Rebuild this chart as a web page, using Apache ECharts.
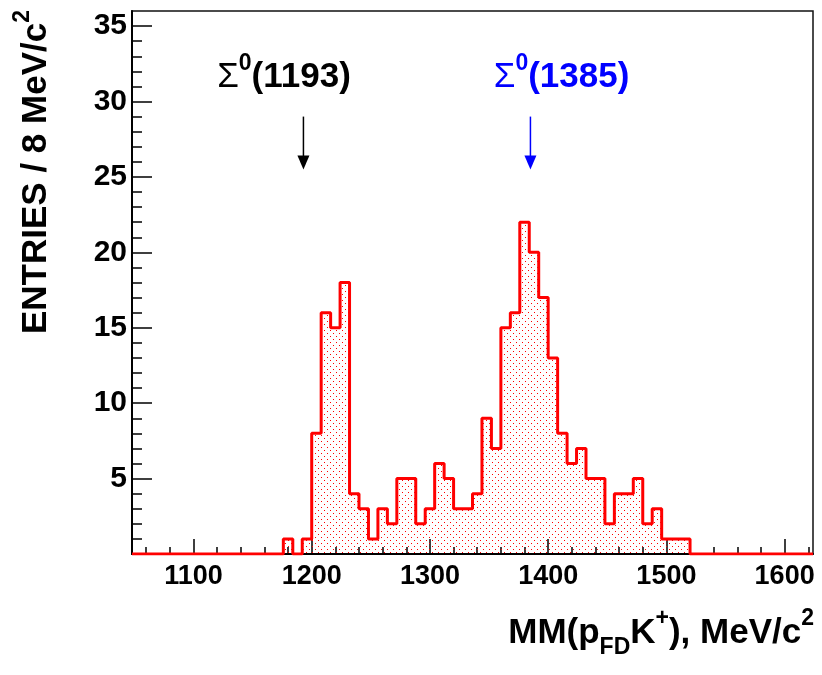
<!DOCTYPE html>
<html>
<head>
<meta charset="utf-8">
<script src="https://cdn.jsdelivr.net/npm/echarts@6/dist/echarts.min.js"></script>
<style>
  html, body { margin: 0; padding: 0; background: #ffffff; }
  #chart { width: 822px; height: 675px; }
</style>
</head>
<body>
<div id="chart"></div>
<script>
// Missing-mass histogram, 8 MeV/c^2 bins
const binStart = 1048;
const binWidth = 8;
const entries = [
  0, 0, 0, 0, 0, 0, 0, 0, 0, 0, 0, 0, 0, 0, 0, 0,   // 1048 - 1176
  1, 0, 1, 8, 16, 15, 18, 4, 3, 1, 3, 2, 5, 5,      // 1176 - 1288
  2, 3, 6, 5, 3, 3, 4, 9, 7, 15, 16, 22, 20, 17,    // 1288 - 1400
  13, 8, 6, 7, 5, 5, 2, 4, 4, 5, 2, 3, 1, 1, 1,     // 1400 - 1520
  0, 0, 0, 0, 0, 0, 0, 0, 0, 0, 0, 0, 0             // 1520 - 1624
];

// Axis ticks
const xMajorTicks = [1100, 1200, 1300, 1400, 1500, 1600];
const xMinorTicks = [1060, 1080, 1120, 1140, 1160, 1180, 1220, 1240, 1260, 1280,
                     1320, 1340, 1360, 1380, 1420, 1440, 1460, 1480, 1520, 1540,
                     1560, 1580, 1620];
const yMajorTicks = [5, 10, 15, 20, 25, 30, 35];
const yMinorTicks = [1, 2, 3, 4, 6, 7, 8, 9, 11, 12, 13, 14, 16, 17, 18, 19,
                     21, 22, 23, 24, 26, 27, 28, 29, 31, 32, 33, 34];

// Resonance markers
const markerMass = [1193, 1385];
const markerName = ['1193', '1385'];
const markerColor = ['#000000', '#0000ff'];

const xMin = binStart;
const xMax = binStart + entries.length * binWidth;
const yMin = 0;
const yMax = 36;

// Step outline: one point per bin left edge, plus the closing right edge
const stepData = entries.map((v, i) => [binStart + i * binWidth, v]);
stepData.push([xMax, entries[entries.length - 1]]);

// Dotted red fill tile
const tile = document.createElement('canvas');
tile.width = 6;
tile.height = 6;
const tctx = tile.getContext('2d');
tctx.fillStyle = '#ff0000';
tctx.fillRect(0, 0, 1, 1);
tctx.fillRect(3, 3, 1, 1);

const FONT = 'Liberation Sans, Arial, Helvetica, sans-serif';
const plain = v => String(v);

const chart = echarts.init(document.getElementById('chart'), null, { renderer: 'canvas' });

const option = {
  backgroundColor: '#ffffff',
  animation: false,
  grid: {
    left: 132, right: 9, top: 11, bottom: 121,
    show: true, borderColor: '#111', borderWidth: 1.5, backgroundColor: 'transparent'
  },
  xAxis: [
    {
      type: 'value', min: xMin, max: xMax, position: 'bottom',
      axisLine: { show: true, onZero: false, lineStyle: { color: '#000', width: 2 } },
      axisTick: { show: true, inside: true, length: 15, customValues: xMajorTicks,
                  lineStyle: { color: '#000', width: 1.5 } },
      axisLabel: { show: true, customValues: xMajorTicks, margin: 9, formatter: plain,
                   color: '#000', fontFamily: FONT, fontWeight: 'bold', fontSize: 27 },
      splitLine: { show: false }
    },
    {
      type: 'value', min: xMin, max: xMax, position: 'bottom',
      axisLine: { show: false },
      axisTick: { show: true, inside: true, length: 7, customValues: xMinorTicks,
                  lineStyle: { color: '#000', width: 1.5 } },
      axisLabel: { show: false },
      splitLine: { show: false }
    }
  ],
  yAxis: [
    {
      type: 'value', min: yMin, max: yMax, position: 'left',
      axisLine: { show: true, onZero: false, lineStyle: { color: '#000', width: 2 } },
      axisTick: { show: true, inside: true, length: 20, customValues: yMajorTicks,
                  lineStyle: { color: '#000', width: 1.5 } },
      axisLabel: { show: true, customValues: yMajorTicks, margin: 5, formatter: plain,
                   color: '#000', fontFamily: FONT, fontWeight: 'bold', fontSize: 30 },
      splitLine: { show: false }
    },
    {
      type: 'value', min: yMin, max: yMax, position: 'left',
      axisLine: { show: false },
      axisTick: { show: true, inside: true, length: 10, customValues: yMinorTicks,
                  lineStyle: { color: '#000', width: 1.5 } },
      axisLabel: { show: false },
      splitLine: { show: false }
    }
  ],
  series: [
    {
      type: 'line',
      xAxisIndex: 0, yAxisIndex: 0,
      data: stepData,
      step: 'end',
      showSymbol: false,
      symbol: 'none',
      z: 5,
      lineStyle: { color: '#ff0000', width: 3 },
      areaStyle: { color: { image: tile, repeat: 'repeat' }, opacity: 1 }
    }
  ]
};

chart.setOption(option);

// Marker labels and arrows, placed through the axes
const toPx = v => chart.convertToPixel({ xAxisIndex: 0, yAxisIndex: 0 }, v);
const labelAnchor = [[1120, 31.6], [1354, 31.6]];
const arrowTop = 29.0;
const arrowTip = 25.5;
const graphics = [];

markerMass.forEach((m, i) => {
  const c = markerColor[i];
  const p = toPx(labelAnchor[i]);
  graphics.push({
    type: 'text', x: p[0], y: p[1], z: 10,
    style: {
      text: '{g|\u03A3}{s|0}{b|(' + markerName[i] + ')}',
      textAlign: 'left', textVerticalAlign: 'middle',
      fill: c,
      rich: {
        g: { fontFamily: FONT, fontSize: 35, fontWeight: 'normal', lineHeight: 50, verticalAlign: 'middle', fill: c },
        s: { fontFamily: FONT, fontSize: 23, fontWeight: 'bold', lineHeight: 23, verticalAlign: 'top', fill: c },
        b: { fontFamily: FONT, fontSize: 35, fontWeight: 'bold', lineHeight: 50, verticalAlign: 'middle', fill: c }
      }
    }
  });
  const a = toPx([m, arrowTop]);
  const t = toPx([m, arrowTip]);
  graphics.push({
    type: 'line', z: 10,
    shape: { x1: a[0], y1: a[1], x2: t[0], y2: t[1] - 10 },
    style: { stroke: c, lineWidth: 1.5 }
  });
  graphics.push({
    type: 'polygon', z: 10,
    shape: { points: [[t[0] - 6, t[1] - 14], [t[0] + 6, t[1] - 14], [t[0], t[1]]] },
    style: { fill: c }
  });
});

// Y axis title, reading upward, ending at the top of the frame
graphics.push({
  type: 'text', x: 36, y: 10, rotation: Math.PI / 2, z: 10,
  style: {
    text: '{b|ENTRIES / 8 MeV/c}{s|2}',
    textAlign: 'right', textVerticalAlign: 'middle',
    fill: '#000',
    rich: {
      b: { fontFamily: FONT, fontSize: 35, fontWeight: 'bold', lineHeight: 50, verticalAlign: 'middle', fill: '#000' },
      s: { fontFamily: FONT, fontSize: 23, fontWeight: 'bold', lineHeight: 23, verticalAlign: 'top', fill: '#000' }
    }
  }
});

// X axis title, right-aligned to the frame
graphics.push({
  type: 'text', x: 814, y: 633, z: 10,
  style: {
    text: '{b|MM(p}{sub|FD}{b|K}{s|+}{b|), MeV/c}{s|2}',
    textAlign: 'right', textVerticalAlign: 'middle',
    fill: '#000',
    rich: {
      b: { fontFamily: FONT, fontSize: 35, fontWeight: 'bold', lineHeight: 52, verticalAlign: 'middle', fill: '#000' },
      s: { fontFamily: FONT, fontSize: 23, fontWeight: 'bold', lineHeight: 23, verticalAlign: 'top', fill: '#000' },
      sub: { fontFamily: FONT, fontSize: 23, fontWeight: 'bold', lineHeight: 23, verticalAlign: 'bottom', fill: '#000' }
    }
  }
});

chart.setOption({ graphic: graphics });
</script>
</body>
</html>
